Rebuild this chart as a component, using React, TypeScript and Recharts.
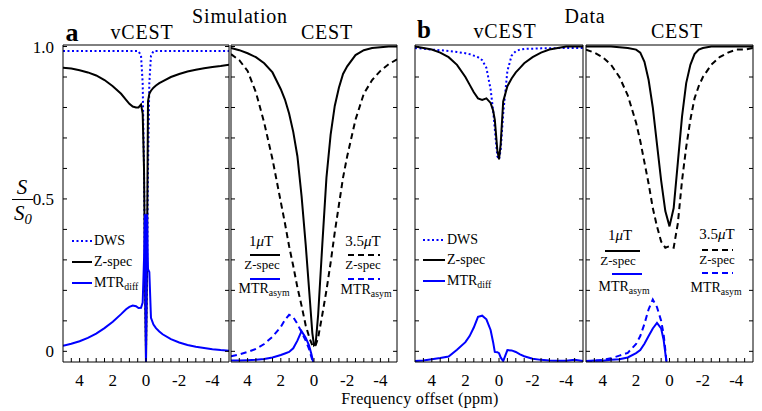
import React from 'react';
import { LineChart, Line, XAxis, YAxis } from 'recharts';

const FONT = '"Liberation Serif", "Times New Roman", serif';
const BLUE = '#0000ff';
const BLACK = '#000000';
const W = 762;
const H = 411;
const PLOT_TOP = 45;
const PLOT_BOTTOM = 362;

// axis ticks (ppm offsets, reversed axis) and S/S0 ticks
const xTicks = [4.5, 4, 3.5, 3, 2.5, 2, 1.5, 1, 0.5, 0, -0.5, -1, -1.5, -2, -2.5, -3, -3.5, -4, -4.5];
const xLabels = [4, 2, 0, -2, -4];
const yTicks = [0, 0.1, 0.2, 0.3, 0.4, 0.5, 0.6, 0.7, 0.8, 0.9, 1];

// Simulation, vCEST
const simVOff = [5, 4.5, 4, 3.5, 3, 2.5, 2, 1.5, 1.2, 1, 0.8, 0.6, 0.45, 0.3, 0.2, 0.12, 0.06, 0, -0.06, -0.12, -0.2, -0.3, -0.45, -0.6, -0.8, -1, -1.5, -2, -2.5, -3, -3.5, -4, -4.5, -5];
const simVDws = [0.985, 0.985, 0.985, 0.985, 0.985, 0.985, 0.985, 0.985, 0.985, 0.985, 0.985, 0.985, 0.985, 0.97, 0.88, 0.6, 0.25, 0.0, 0.25, 0.6, 0.88, 0.97, 0.985, 0.985, 0.985, 0.985, 0.985, 0.985, 0.985, 0.985, 0.985, 0.985, 0.985, 0.985];
const simVZ = [0.93, 0.928, 0.922, 0.915, 0.905, 0.89, 0.87, 0.845, 0.825, 0.812, 0.803, 0.8, 0.8, 0.81, 0.78, 0.6, 0.25, -0.035, 0.3, 0.82, 0.845, 0.855, 0.865, 0.872, 0.88, 0.886, 0.9, 0.91, 0.918, 0.924, 0.929, 0.933, 0.936, 0.94];
const simVMtr = [0.018, 0.025, 0.033, 0.044, 0.058, 0.076, 0.097, 0.122, 0.138, 0.146, 0.15, 0.148, 0.142, 0.143, 0.16, 0.3, 0.45, -0.035, 0.45, 0.27, 0.26, 0.11, 0.088, 0.076, 0.065, 0.056, 0.04, 0.029, 0.021, 0.015, 0.011, 0.007, 0.004, 0.002];

// Simulation, CEST
const simCOff = [5, 4.5, 4, 3.5, 3, 2.5, 2, 1.75, 1.5, 1.25, 1, 0.75, 0.5, 0.25, 0.1, 0, -0.1, -0.25, -0.5, -0.75, -1, -1.25, -1.5, -1.75, -2, -2.5, -3, -3.5, -4, -4.5, -5];
const simCZ1 = [0.995, 0.988, 0.978, 0.965, 0.945, 0.915, 0.86, 0.826, 0.78, 0.72, 0.64, 0.51, 0.35, 0.17, 0.06, 0.02, 0.025, 0.12, 0.35, 0.57, 0.71, 0.805, 0.865, 0.91, 0.935, 0.972, 0.988, 0.995, 0.998, 1.0, 1.0];
const simCZ35 = [0.975, 0.955, 0.92, 0.85, 0.75, 0.63, 0.49, 0.42, 0.345, 0.28, 0.21, 0.15, 0.085, 0.04, 0.02, 0.015, 0.02, 0.045, 0.12, 0.2, 0.29, 0.39, 0.48, 0.57, 0.64, 0.76, 0.845, 0.89, 0.92, 0.942, 0.958];
const simAsymOff = [5, 4.5, 4, 3.5, 3, 2.5, 2, 1.75, 1.5, 1.25, 1, 0.75, 0.5, 0.3, 0.15, 0.05];
const simAsym1 = [-0.03, -0.03, -0.029, -0.028, -0.025, -0.02, -0.012, -0.007, -0.002, 0.01, 0.035, 0.066, 0.045, 0.02, -0.01, -0.035];
const simAsym35 = [-0.016, -0.01, -0.002, 0.008, 0.024, 0.048, 0.08, 0.103, 0.12, 0.112, 0.09, 0.063, 0.035, 0.008, -0.02, -0.035];

// Data, vCEST
const dataVOff = [5, 4.5, 4, 3.5, 3, 2.5, 2, 1.75, 1.5, 1.25, 1, 0.75, 0.5, 0.35, 0.25, 0.1, 0, -0.1, -0.25, -0.5, -0.75, -1, -1.25, -1.5, -2, -2.5, -3, -3.5, -4, -4.5, -5];
const dataVDws = [0.995, 0.993, 0.99, 0.988, 0.985, 0.982, 0.978, 0.975, 0.97, 0.965, 0.955, 0.93, 0.86, 0.79, 0.73, 0.64, 0.63, 0.66, 0.78, 0.92, 0.97, 0.985, 0.99, 0.992, 0.993, 0.994, 0.994, 0.995, 0.995, 0.995, 0.995];
const dataVZ = [1.0, 0.995, 0.99, 0.98, 0.965, 0.94, 0.9, 0.875, 0.85, 0.83, 0.825, 0.83, 0.815, 0.79, 0.76, 0.66, 0.63, 0.68, 0.82, 0.87, 0.895, 0.915, 0.93, 0.945, 0.965, 0.98, 0.99, 0.995, 1.0, 1.0, 1.0];
const dataVMtr = [-0.032, -0.03, -0.026, -0.022, -0.017, 0.005, 0.03, 0.05, 0.078, 0.113, 0.117, 0.105, 0.07, 0.03, -0.002, -0.003, -0.006, -0.02, -0.032, 0.004, 0.003, -0.002, -0.01, -0.016, -0.024, -0.028, -0.03, -0.031, -0.031, -0.028, -0.032];

// Data, CEST
const dataCOff = [5, 4.5, 4, 3.5, 3, 2.5, 2, 1.75, 1.5, 1.25, 1, 0.75, 0.5, 0.25, 0, -0.25, -0.5, -0.75, -1, -1.25, -1.5, -1.75, -2, -2.5, -3, -3.5, -4, -4.5, -5];
const dataCZ1 = [1.0, 1.0, 1.0, 1.0, 0.998, 0.995, 0.99, 0.98, 0.95, 0.89, 0.8, 0.68, 0.56, 0.46, 0.41, 0.47, 0.62, 0.77, 0.88, 0.94, 0.975, 0.99, 0.995, 1.0, 1.0, 1.0, 1.0, 1.0, 1.0];
const dataCZ35 = [0.99, 0.98, 0.965, 0.94, 0.9, 0.84, 0.75, 0.69, 0.62, 0.55, 0.47, 0.41, 0.36, 0.34, 0.345, 0.34, 0.42, 0.56, 0.67, 0.76, 0.83, 0.87, 0.9, 0.94, 0.965, 0.98, 0.99, 0.99, 0.995];
const dataAsymOff = [5, 4.5, 4, 3.5, 3, 2.5, 2, 1.75, 1.5, 1.25, 1, 0.75, 0.5, 0.35, 0.25, 0.18];
const dataAsym1 = [-0.032, -0.03, -0.031, -0.028, -0.026, -0.02, -0.006, 0.004, 0.025, 0.05, 0.075, 0.093, 0.075, 0.037, -0.006, -0.035];
const dataAsym35 = [-0.033, -0.031, -0.028, -0.023, -0.014, -0.005, 0.024, 0.05, 0.09, 0.138, 0.17, 0.145, 0.1, 0.055, 0.005, -0.035];

const DOTTED = '2 2.5';
const DASHED = '6 4';

interface Series {
  name: string;
  x: number[];
  y: number[];
  color: string;
  dash?: string;
}

const zip = (x: number[], y: number[]) => x.map((v, i) => ({ x: v, y: y[i] }));

function Panel({ left, right, series, yLabels }: { left: number; right: number; series: Series[]; yLabels: boolean }) {
  const tickStyle = { fill: BLACK, fontSize: 17, fontFamily: FONT };
  return (
    <div style={{ position: 'absolute', left: 0, top: 0 }}>
      <LineChart
        width={W}
        height={H}
        margin={{ top: PLOT_TOP - 1, bottom: H - PLOT_BOTTOM - 30, left: left - 30, right: W - right - 1 }}
      >
        <XAxis
          xAxisId="b"
          type="number"
          dataKey="x"
          domain={[-5, 5]}
          reversed
          allowDataOverflow
          ticks={xTicks}
          interval={0}
          height={30}
          tickSize={-4}
          tickMargin={16}
          stroke={BLACK}
          tick={tickStyle}
          tickFormatter={(v: number) => (xLabels.includes(v) ? String(v) : '')}
        />
        <XAxis
          xAxisId="t"
          orientation="top"
          type="number"
          domain={[-5, 5]}
          reversed
          allowDataOverflow
          ticks={xTicks}
          interval={0}
          height={1}
          tickSize={-4}
          stroke={BLACK}
          tickFormatter={() => ''}
        />
        <YAxis
          yAxisId="l"
          type="number"
          domain={[-0.035, 1.005]}
          allowDataOverflow
          ticks={yTicks}
          interval={0}
          width={30}
          tickSize={-4}
          tickMargin={13}
          stroke={BLACK}
          tick={tickStyle}
          tickFormatter={(v: number) => (!yLabels ? '' : v === 0 ? '0' : v === 0.5 ? '0.5' : v === 1 ? '1.0' : '')}
        />
        <YAxis
          yAxisId="r"
          orientation="right"
          type="number"
          domain={[-0.035, 1.005]}
          allowDataOverflow
          ticks={yTicks}
          interval={0}
          width={1}
          tickSize={-4}
          stroke={BLACK}
          tickFormatter={() => ''}
        />
        {series.map((s) => (
          <Line
            key={s.name}
            xAxisId="b"
            yAxisId="l"
            data={zip(s.x, s.y)}
            dataKey="y"
            type="linear"
            stroke={s.color}
            strokeWidth={2}
            strokeDasharray={s.dash}
            dot={false}
            isAnimationActive={false}
          />
        ))}
      </LineChart>
    </div>
  );
}

function Txt({ x, y, size, children, bold, italic, spacing, anchor = 'middle' }: {
  x: number; y: number; size: number; children: React.ReactNode; bold?: boolean; italic?: boolean; spacing?: number; anchor?: 'start' | 'middle';
}) {
  return (
    <div
      style={{
        position: 'absolute',
        left: x,
        top: y,
        transform: `translate(${anchor === 'middle' ? '-50%' : '0'}, -50%)`,
        fontFamily: FONT,
        fontSize: size,
        lineHeight: 1,
        whiteSpace: 'nowrap',
        fontWeight: bold ? 700 : 400,
        fontStyle: italic ? 'italic' : 'normal',
        letterSpacing: spacing,
        color: BLACK,
      }}
    >
      {children}
    </div>
  );
}

function Sample({ x1, x2, y, color, dash }: { x1: number; x2: number; y: number; color: string; dash?: string }) {
  return (
    <svg style={{ position: 'absolute', left: x1, top: y - 3 }} width={x2 - x1} height={6}>
      <line x1={0} x2={x2 - x1} y1={3} y2={3} stroke={color} strokeWidth={2} strokeDasharray={dash} />
    </svg>
  );
}

const sub = (t: string) => <sub style={{ fontSize: '0.7em', verticalAlign: '-0.3em', lineHeight: 0 }}>{t}</sub>;

export default function App() {
  return (
    <div style={{ position: 'absolute', left: 0, top: 0, width: W, height: H, background: '#fff', overflow: 'hidden' }}>
      <Panel
        left={63}
        right={229}
        yLabels
        series={[
          { name: 'dws', x: simVOff, y: simVDws, color: BLUE, dash: DOTTED },
          { name: 'z', x: simVOff, y: simVZ, color: BLACK },
          { name: 'mtr', x: simVOff, y: simVMtr, color: BLUE },
        ]}
      />
      <Panel
        left={231}
        right={397}
        yLabels={false}
        series={[
          { name: 'z1', x: simCOff, y: simCZ1, color: BLACK },
          { name: 'z35', x: simCOff, y: simCZ35, color: BLACK, dash: DASHED },
          { name: 'a1', x: simAsymOff, y: simAsym1, color: BLUE },
          { name: 'a35', x: simAsymOff, y: simAsym35, color: BLUE, dash: DASHED },
        ]}
      />
      <Panel
        left={415}
        right={583}
        yLabels={false}
        series={[
          { name: 'dws', x: dataVOff, y: dataVDws, color: BLUE, dash: DOTTED },
          { name: 'z', x: dataVOff, y: dataVZ, color: BLACK },
          { name: 'mtr', x: dataVOff, y: dataVMtr, color: BLUE },
        ]}
      />
      <Panel
        left={586}
        right={753}
        yLabels={false}
        series={[
          { name: 'z1', x: dataCOff, y: dataCZ1, color: BLACK },
          { name: 'z35', x: dataCOff, y: dataCZ35, color: BLACK, dash: DASHED },
          { name: 'a1', x: dataAsymOff, y: dataAsym1, color: BLUE },
          { name: 'a35', x: dataAsymOff, y: dataAsym35, color: BLUE, dash: DASHED },
        ]}
      />

      {/* titles */}
      <Txt x={240} y={16} size={20} spacing={0.8}>Simulation</Txt>
      <Txt x={585} y={16} size={20} spacing={0.8}>Data</Txt>
      <Txt x={72} y={33} size={26} bold>a</Txt>
      <Txt x={424} y={29} size={25} bold>b</Txt>
      <Txt x={142} y={32} size={20} spacing={0.8}>vCEST</Txt>
      <Txt x={327} y={32} size={20} spacing={0.8}>CEST</Txt>
      <Txt x={505} y={31} size={20} spacing={0.8}>vCEST</Txt>
      <Txt x={677} y={31} size={20} spacing={0.8}>CEST</Txt>
      <Txt x={420} y={399} size={16} spacing={0.3}>Frequency offset (ppm)</Txt>

      {/* S/S0 */}
      <Txt x={22} y={187} size={21} italic>S</Txt>
      <div style={{ position: 'absolute', left: 12, top: 199, width: 21, height: 1.2, background: BLACK }} />
      <Txt x={23} y={213} size={21} italic>S{sub('0')}</Txt>

      {/* legend: simulation vCEST */}
      <Sample x1={72} x2={92} y={241} color={BLUE} dash={DOTTED} />
      <Txt x={94} y={241} size={14} anchor="start">DWS</Txt>
      <Sample x1={72} x2={92} y={262} color={BLACK} />
      <Txt x={94} y={262} size={14} anchor="start">Z-spec</Txt>
      <Sample x1={72} x2={92} y={283} color={BLUE} />
      <Txt x={94} y={283} size={14} anchor="start">MTR{sub('diff')}</Txt>

      {/* legend: data vCEST */}
      <Sample x1={423} x2={445} y={240} color={BLUE} dash={DOTTED} />
      <Txt x={447} y={240} size={14} anchor="start">DWS</Txt>
      <Sample x1={423} x2={445} y={260} color={BLACK} />
      <Txt x={447} y={260} size={14} anchor="start">Z-spec</Txt>
      <Sample x1={423} x2={445} y={281} color={BLUE} />
      <Txt x={447} y={281} size={14} anchor="start">MTR{sub('diff')}</Txt>

      {/* legend: simulation CEST */}
      <Txt x={261} y={241} size={15}>1<i>μ</i>T</Txt>
      <Sample x1={250} x2={280} y={255} color={BLACK} />
      <Txt x={262} y={264} size={13}>Z-spec</Txt>
      <Sample x1={250} x2={280} y={279} color={BLUE} />
      <Txt x={264} y={289} size={14}>MTR{sub('asym')}</Txt>
      <Txt x={363} y={241} size={15}>3.5<i>μ</i>T</Txt>
      <Sample x1={348} x2={380} y={255} color={BLACK} dash={DASHED} />
      <Txt x={363} y={264} size={13}>Z-spec</Txt>
      <Sample x1={348} x2={380} y={279} color={BLUE} dash={DASHED} />
      <Txt x={366} y={290} size={14}>MTR{sub('asym')}</Txt>

      {/* legend: data CEST */}
      <Txt x={620} y={235} size={15}>1<i>μ</i>T</Txt>
      <Sample x1={605} x2={640} y={251} color={BLACK} />
      <Txt x={618} y={260} size={13}>Z-spec</Txt>
      <Sample x1={612} x2={642} y={274} color={BLUE} />
      <Txt x={624} y={287} size={14}>MTR{sub('asym')}</Txt>
      <Txt x={717} y={234} size={15}>3.5<i>μ</i>T</Txt>
      <Sample x1={702} x2={733} y={250} color={BLACK} dash={DASHED} />
      <Txt x={717} y={259} size={13}>Z-spec</Txt>
      <Sample x1={702} x2={733} y={273} color={BLUE} dash={DASHED} />
      <Txt x={716} y={288} size={14}>MTR{sub('asym')}</Txt>
    </div>
  );
}
